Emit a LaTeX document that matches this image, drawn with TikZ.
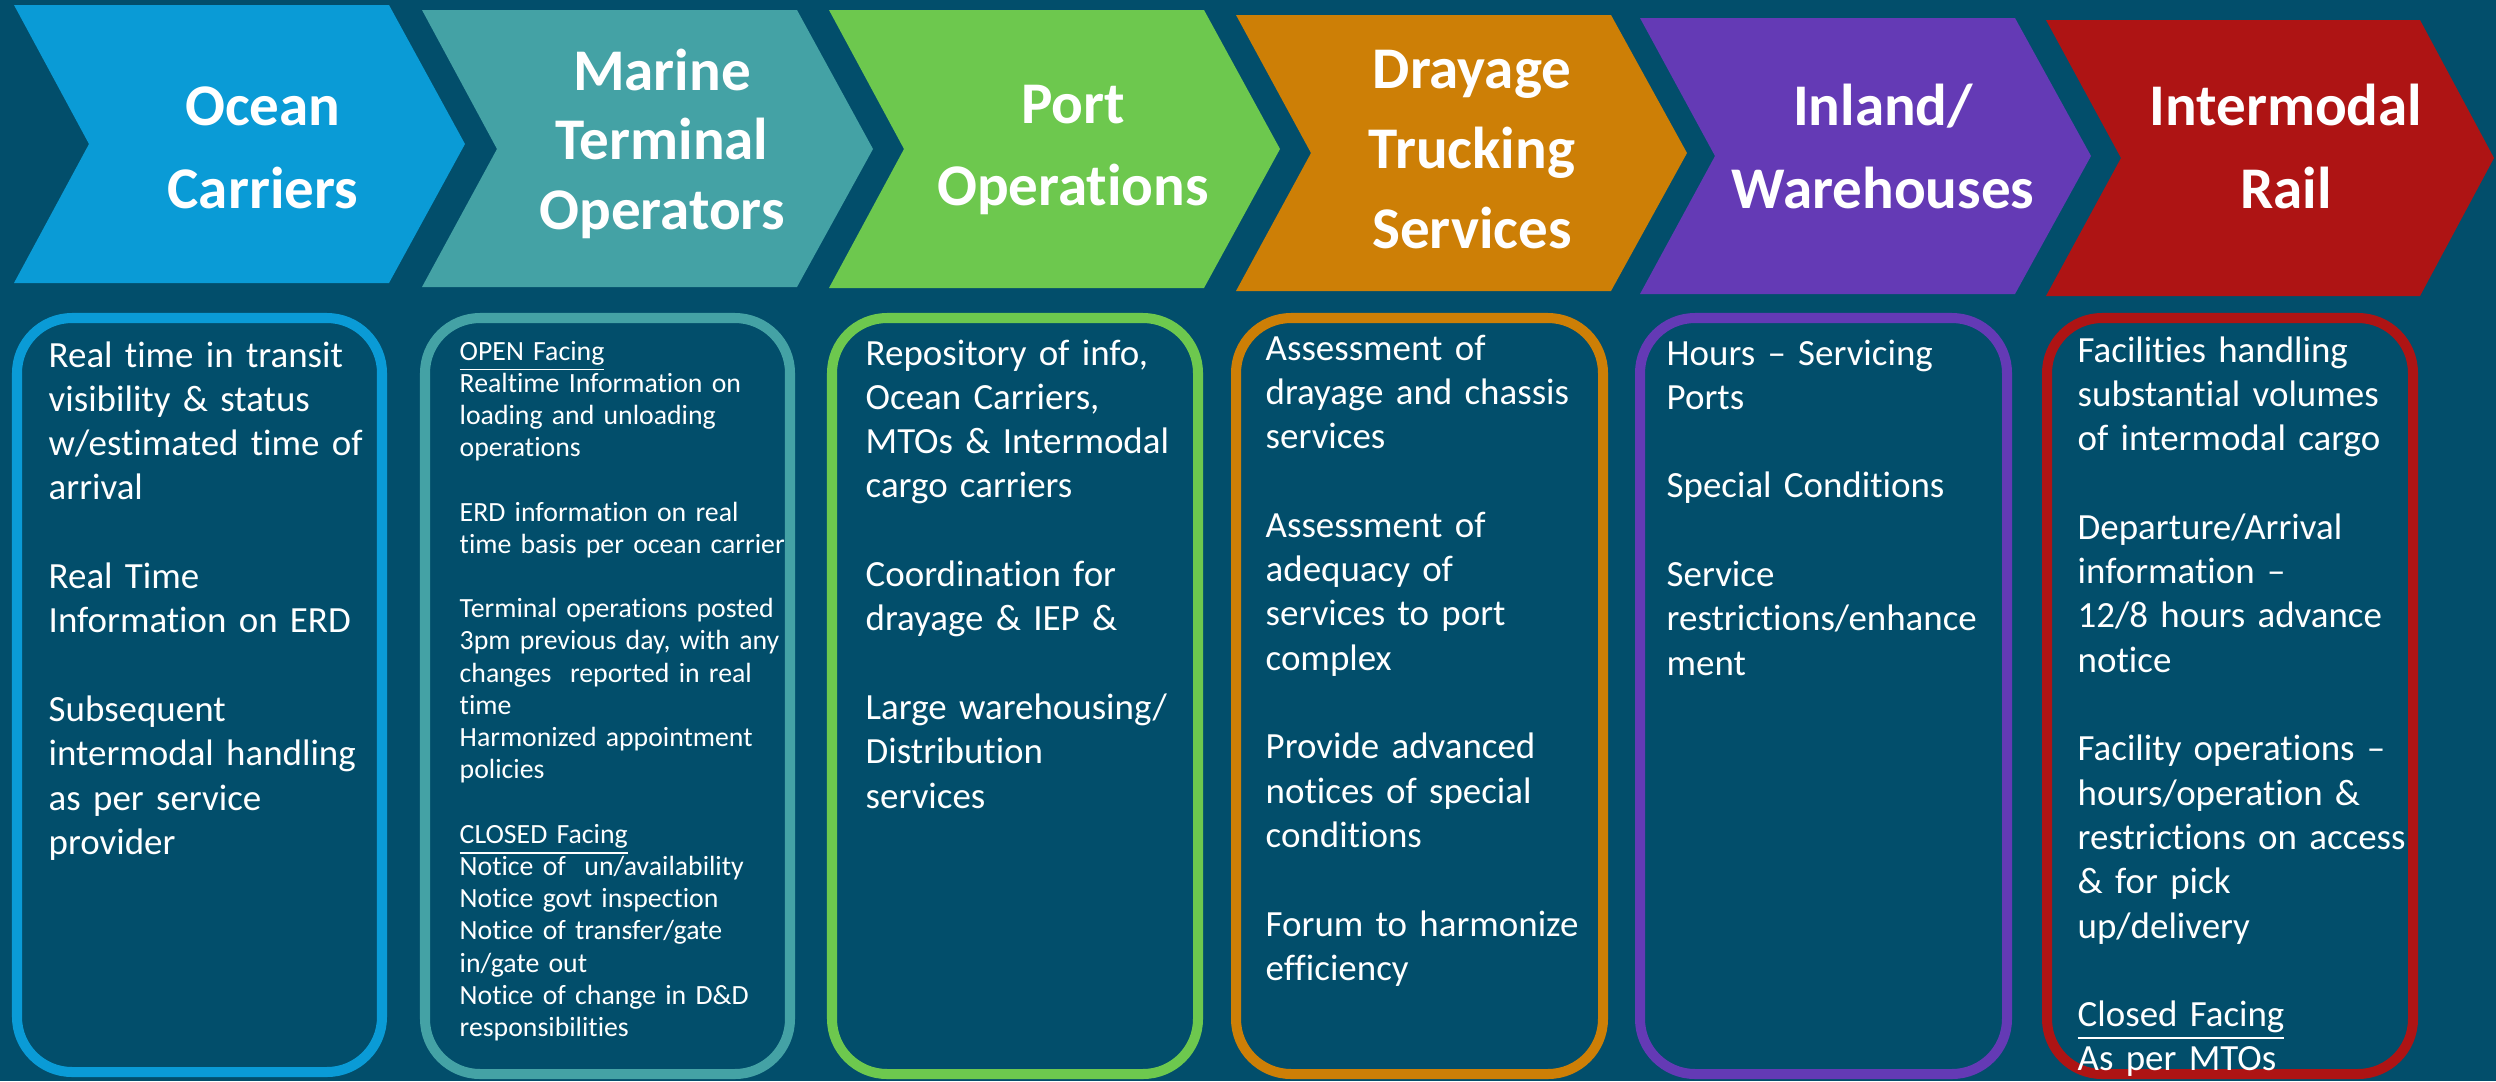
\documentclass[tikz,border=0pt]{standalone}
\usepackage{fontspec}
\setmainfont{Carlito}[Ligatures=CommonOff]
\definecolor{bgblue}{HTML}{024E6B}
\definecolor{oceanblue}{HTML}{0A9BD6}
\definecolor{marineteal}{HTML}{44A2A5}
\definecolor{portgreen}{HTML}{6DC84E}
\definecolor{drayorange}{HTML}{CD7F06}
\definecolor{inlandpurple}{HTML}{643AB5}
\definecolor{railred}{HTML}{AE1414}

\begin{document}
\begin{tikzpicture}[x=0.01cm, y=-0.01cm,
    title/.style={text=white, inner sep=0pt, anchor=base, align=center,
      text width=3.8cm, font=\fontsize{16.8}{23.6}\selectfont\bfseries},
    frame/.style={draw=#1, line width=2.85pt, rounded corners=0.55cm},
    info/.style={text=white, inner sep=0pt, anchor=base west, align=left,
      text width=3.6cm, font=\fontsize{10.5}{12.6}\selectfont},
    infosmall/.style={info, font=\fontsize{7.9}{9.16}\selectfont}]

  % background
  \fill[bgblue] (0,0) rectangle (2496,1081);

  % chevrons
  \fill[oceanblue]    (14,5)    -- (389,5)    -- (465,144)  -- (389,283)  --
                      (14,283)  -- (89,144)   -- cycle;
  \fill[marineteal]   (422,10)  -- (797,10)   -- (873,149)  -- (797,287)  --
                      (422,287) -- (497,149)  -- cycle;
  \fill[portgreen]    (829,10)  -- (1204,10)  -- (1280,149) -- (1204,288) --
                      (829,288) -- (904,149)  -- cycle;
  \fill[drayorange]   (1236,15) -- (1611,15)  -- (1687,153) -- (1611,291) --
                      (1236,291) -- (1311,153) -- cycle;
  \fill[inlandpurple] (1640,18) -- (2015,18)  -- (2091,156) -- (2015,294) --
                      (1640,294) -- (1715,156) -- cycle;
  \fill[railred]      (2046,20) -- (2420,20)  -- (2494,158) -- (2420,296) --
                      (2046,296) -- (2121,158) -- cycle;

  \node[title] (ocean)  at (263,125)  {Ocean\\Carriers};
  \node[title, font=\fontsize{16.8}{19.9}\selectfont\bfseries]
                (marine) at (662,90)   {Marine\\Terminal\\Operators};
  \node[title] (port)   at (1073,123) {Port\\Operations};
  \node[title, font=\fontsize{16.8}{22.8}\selectfont\bfseries]
                (dray)   at (1472,88)  {Drayage\\Trucking\\Services};
  \node[title] (inland) at (1883,125) {Inland/\\Warehouses};
  \node[title] (rail)   at (2286,125) {Intermodal\\Rail};

  % boxes
  \draw[frame=oceanblue]    (17,318)   rectangle (382,1072);
  \draw[frame=marineteal]   (425,318)  rectangle (790,1074);
  \draw[frame=portgreen]    (832,318)  rectangle (1198,1074);
  \draw[frame=drayorange]   (1236,318) rectangle (1603,1074);
  \draw[frame=inlandpurple] (1640,318) rectangle (2007,1074);
  \draw[frame=railred]      (2047,318) rectangle (2413,1074);

  \node[info] (oceantext) at (48,367) {Real time in transit\\
    visibility \& status\\
    w/estimated time of\\
    arrival\\[\baselineskip]
    Real Time\\
    Information on ERD\\[\baselineskip]
    Subsequent\\
    intermodal handling\\
    as per service\\
    provider};

  \node[infosmall] (marinetext) at (459,360) {\underline{OPEN Facing}\\
    Realtime Information on\\
    loading and unloading\\
    operations\\[\baselineskip]
    ERD information on real\\
    time basis per ocean carrier\\[\baselineskip]
    Terminal operations posted\\
    3pm previous day, with any\\
    changes\ \ reported in real\\
    time\\
    Harmonized appointment\\
    policies\\[\baselineskip]
    \underline{CLOSED Facing}\\
    Notice of\ \ un/availability\\
    Notice govt inspection\\
    Notice of transfer/gate\\
    in/gate out\\
    Notice of change in D\&D\\
    responsibilities};

  \node[info] (porttext) at (865,365) {Repository of info,\\
    Ocean Carriers,\\
    MTOs \& Intermodal\\
    cargo carriers\\[\baselineskip]
    Coordination for\\
    drayage \& IEP \&\\[\baselineskip]
    Large warehousing/\\
    Distribution\\
    services};

  \node[info] (draytext) at (1265,360) {Assessment of\\
    drayage and chassis\\
    services\\[\baselineskip]
    Assessment of\\
    adequacy of\\
    services to port\\
    complex\\[\baselineskip]
    Provide advanced\\
    notices of special\\
    conditions\\[\baselineskip]
    Forum to harmonize\\
    efficiency};

  \node[info] (inlandtext) at (1666,365) {Hours – Servicing\\
    Ports\\[\baselineskip]
    Special Conditions\\[\baselineskip]
    Service\\
    restrictions/enhance\\
    ment};

  \node[info] (railtext) at (2077,362) {Facilities handling\\
    substantial volumes\\
    of intermodal cargo\\[\baselineskip]
    Departure/Arrival\\
    information –\\
    12/8 hours advance\\
    notice\\[\baselineskip]
    Facility operations –\\
    hours/operation \&\\
    restrictions on access\\
    \& for pick\\
    up/delivery\\[\baselineskip]
    \underline{Closed Facing}\\
    As per MTOs};
\end{tikzpicture}
\end{document}
